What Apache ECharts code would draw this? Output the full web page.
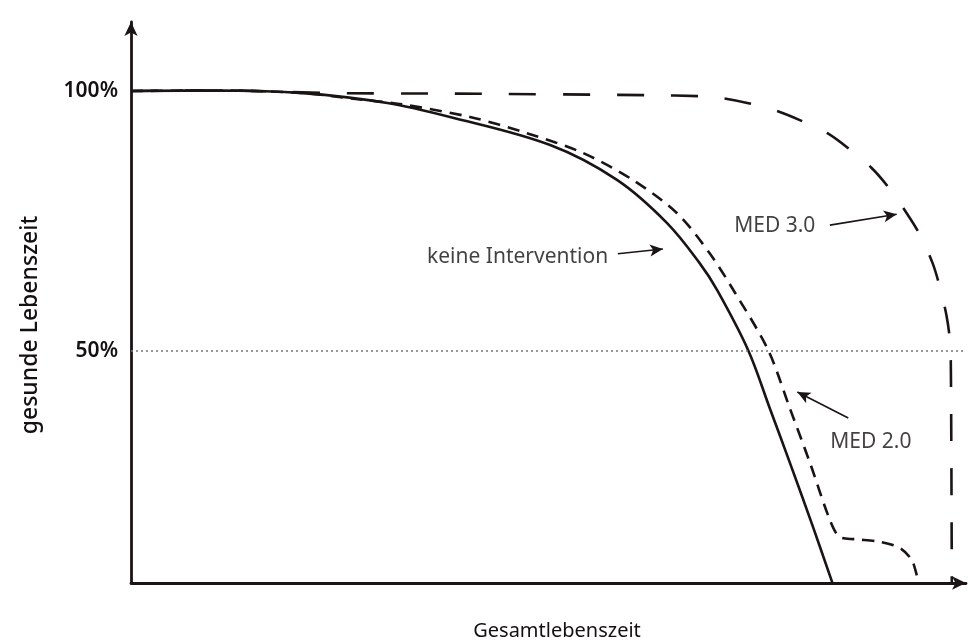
<!DOCTYPE html>
<html>
<head>
<meta charset="utf-8">
<script src="https://cdn.jsdelivr.net/npm/echarts@6/dist/echarts.min.js"></script>
<style>
html,body{margin:0;padding:0;background:#fff;}
#chart{width:979px;height:641px;}
</style>
</head>
<body>
<div id="chart"></div>
<script>
// ---- data (x: Gesamtlebenszeit, 0..100 ; y: gesunde Lebenszeit in %) ----
var keineX = [0, 10.7, 20.6, 30.7, 38.2, 50.2, 58.2, 64.2, 68.1, 70.2, 73.9, 76.5, 79.0, 81.6, 84.0];
var keineY = [100, 100.1, 99.6, 97.7, 95.0, 89.6, 82.9, 74.6, 66.9, 61.7, 50.2, 39.0, 28.1, 16.5, 5.4];

var med2X = [0, 10.7, 20.6, 26.6, 32.2, 40.6, 47.4, 54.1, 60.1, 65.4, 69.3, 72.3, 76.3, 78.9, 81.4, 83.7, 84.9, 86.7, 89.7, 92.1, 93.5, 94.1, 94.3];
var med2Y = [100, 100.1, 99.6, 98.5, 97.5, 95.0, 91.9, 88.1, 82.9, 76.5, 68.8, 61.3, 50.2, 39.0, 28.1, 17.5, 14.2, 13.8, 13.3, 12.1, 9.8, 6.9, 5.4];

var med3X = [0, 10.7, 24.7, 38.2, 62.2, 68.1, 70.5, 73.8, 77.1, 80.1, 83.4, 85.9, 88.7, 90.7, 92.9, 94.5, 96.0, 96.9, 97.7, 98.1, 98.2, 98.3];
var med3Y = [100, 100.1, 99.6, 99.5, 99.2, 99.0, 98.7, 97.7, 96.3, 94.4, 91.9, 89.0, 85.2, 81.5, 76.5, 72.3, 66.9, 62.1, 56.5, 51.5, 44.4, 5.4];

var yTickValues = [50, 100];
var yTickSuffix = '%';
var referenceLevel = 50;

var annotationTexts = ['keine Intervention', 'MED 3.0', 'MED 2.0'];
var annotationTextX = [46.3, 77.1, 88.6];
var annotationTextY = [68.1, 74.0, 32.5];
var arrowFromX = [58.3, 83.7, 85.9];
var arrowFromY = [68.7, 74.2, 37.1];
var arrowToX = [63.7, 91.7, 79.8];
var arrowToY = [69.6, 76.3, 42.1];

var xAxisTitle = 'Gesamtlebenszeit';
var yAxisTitle = 'gesunde Lebenszeit';

// ---- build ----
function zip(xs, ys) { return xs.map(function (x, i) { return [x, ys[i]]; }); }
var ink = '#1b1414';
var textInk = '#141010';
var chart = echarts.init(document.getElementById('chart'), null, {renderer: 'canvas'});

var arrows = arrowFromX.map(function (x, i) {
  return [{coord: [x, arrowFromY[i]]}, {coord: [arrowToX[i], arrowToY[i]]}];
});
var labels = annotationTexts.map(function (t, i) {
  return {name: t, value: [annotationTextX[i], annotationTextY[i]]};
});

var option = {
  backgroundColor: '#ffffff',
  animation: false,
  grid: {left: 131, right: 13, top: 22, bottom: 58, containLabel: false},
  xAxis: {
    type: 'value', min: 0, max: 100,
    axisLine: {show: true, symbol: ['none', 'arrow'], symbolSize: [10, 14], lineStyle: {color: ink, width: 2.8}},
    axisTick: {show: false}, axisLabel: {show: false}, splitLine: {show: false}
  },
  yAxis: {
    type: 'value', min: 5.38, max: 113.27,
    axisLine: {show: true, symbol: ['none', 'arrow'], symbolSize: [10, 14], lineStyle: {color: ink, width: 2.8}},
    axisTick: {show: false},
    splitLine: {show: false},
    axisLabel: {
      show: true, customValues: yTickValues, margin: 13,
      formatter: function (v) { return v + yTickSuffix; },
      fontFamily: 'Noto Sans', fontSize: 21, fontWeight: 600, color: textInk
    }
  },
  graphic: [
    {type: 'text', x: 557, y: 631,
      style: {text: xAxisTitle, fontFamily: 'Noto Sans', fontSize: 20, fill: textInk, align: 'center', verticalAlign: 'middle'}},
    {type: 'text', x: 30, y: 325, rotation: Math.PI / 2,
      style: {text: yAxisTitle, fontFamily: 'Noto Sans', fontSize: 23, fontWeight: 500, fill: textInk, align: 'center', verticalAlign: 'middle'}}
  ],
  series: [
    {
      name: 'keine Intervention', type: 'line', data: zip(keineX, keineY),
      showSymbol: false, symbol: 'none', smooth: 0.35,
      lineStyle: {color: ink, width: 2.6},
      markLine: {
        silent: true, symbol: ['none', 'none'],
        label: {show: false},
        lineStyle: {color: '#777', type: [2, 3], width: 1.6},
        data: [{yAxis: referenceLevel}]
      }
    },
    {
      name: 'MED 2.0', type: 'line', data: zip(med2X, med2Y),
      showSymbol: false, symbol: 'none', smooth: 0.3,
      lineStyle: {color: ink, width: 2.6, type: [12, 8]}
    },
    {
      name: 'MED 3.0', type: 'line', data: zip(med3X, med3Y),
      showSymbol: false, symbol: 'none', smooth: 0.3,
      lineStyle: {color: ink, width: 2.6, type: [27, 27]},
      markLine: {
        silent: true, symbol: ['none', 'arrow'], symbolSize: [9, 13],
        label: {show: false},
        lineStyle: {color: ink, type: 'solid', width: 1.6},
        data: arrows
      }
    },
    {
      name: 'labels', type: 'scatter', data: labels, symbolSize: 0, silent: true,
      label: {show: true, position: 'inside', formatter: '{b}', fontFamily: 'Noto Sans', fontSize: 21, color: textInk}
    }
  ]
};
chart.setOption(option);
</script>
</body>
</html>
